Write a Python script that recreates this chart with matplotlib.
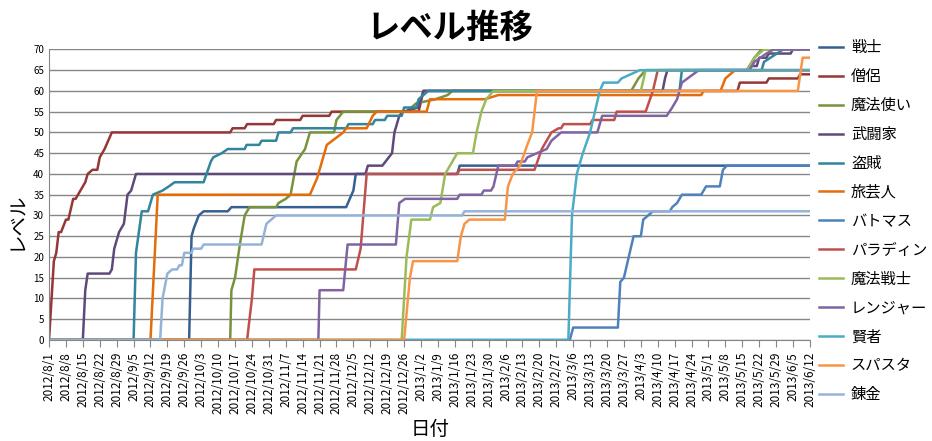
import matplotlib
matplotlib.use("Agg")
import matplotlib.pyplot as plt
import pandas as pd

plt.rcParams["font.family"] = ["Noto Sans CJK JP", "DejaVu Sans"]

start = pd.Timestamp("2012-08-01")
end = pd.Timestamp("2013-06-12")

names = ["戦士", "僧侶", "魔法使い", "武闘家", "盗賊", "旅芸人", "バトマス",
         "パラディン", "魔法戦士", "レンジャー", "賢者", "スパスタ", "錬金"]
colors = ["#376092", "#953735", "#77933C", "#5F497A", "#31859C", "#E46C0A", "#4F81BD",
          "#C0504D", "#9BBB59", "#8064A2", "#4BACC6", "#F79646", "#95B3D7"]

# day offsets from 2012/8/1 and levels
senshi_d = [0, 58, 59, 60, 62, 64, 74, 75.5, 123, 126, 127, 169, 170, 315]
senshi_v = [0, 0, 25, 27, 30, 31, 31, 32, 32, 36, 40, 40, 42, 42]
souryo_d = [0, 2, 3, 4, 5, 7, 8, 10, 11, 15, 16, 18, 20, 21, 23, 26, 75, 76, 81, 82, 93, 94, 104, 105, 116, 117, 153, 155, 285, 286, 297, 298, 310, 311, 315]
souryo_v = [0, 19, 21, 26, 26, 29, 29, 34, 34, 38, 40, 41, 41, 44, 46, 50, 50, 51, 51, 52, 52, 53, 53, 54, 54, 55, 55, 60, 60, 62, 62, 63, 63, 64, 64]
mahou_d = [0, 75, 75.5, 77, 79, 81, 83, 94, 95, 98, 100, 102.5, 106, 108, 118, 119, 121.8, 148, 152, 160, 165, 167, 241, 244, 247, 289, 292, 295, 315]
mahou_v = [0, 0, 12, 15, 23, 30, 32, 32, 33, 34, 35, 43, 46, 50, 50, 53, 55, 55, 57, 58, 59, 60, 60, 63, 65, 65, 68, 70, 70]
butou_d = [0, 14, 15, 16, 25, 26, 27, 29, 31, 32.5, 34, 36, 131, 132, 138, 142, 143, 145, 146.6, 153, 155, 254, 255, 256, 289, 290, 293, 294, 297, 298, 307, 308, 315]
butou_v = [0, 0, 12, 16, 16, 17, 22, 26, 28, 35, 36, 40, 40, 42, 42, 45, 50, 54, 55, 56, 60, 60, 63, 65, 65, 66, 66, 68, 68, 69, 69, 70, 70]
touzoku_d = [0, 35, 36, 38.4, 41, 43, 47, 49.6, 52, 64, 67, 68, 71.5, 74, 81, 81.8, 87, 88, 94, 95, 100, 101, 123, 124, 134, 135, 139, 140, 146, 147, 152, 153, 157, 261, 262, 295, 296, 304, 315]
touzoku_v = [0, 0, 21, 31, 31, 35, 36, 37, 38, 38, 43, 44, 45, 46, 46, 47, 47, 48, 48, 50, 50, 51, 51, 52, 52, 53, 53, 54, 54, 56, 56, 58, 60, 60, 65, 65, 67, 70, 70]
tabi_d = [0, 42, 45, 108, 111, 113, 115, 121.8, 123, 131.5, 134, 135.6, 156.3, 157.7, 180.5, 186, 270, 271, 278, 280, 284, 315]
tabi_v = [0, 0, 35, 35, 39, 43, 47, 50, 51, 51, 54, 55, 55, 58, 58, 59, 59, 60, 60, 63, 65, 65]
batomasu_d = [0, 215.6, 217, 235.5, 236.5, 238, 240, 242, 245, 246, 250, 257, 258, 260, 262, 270, 272, 277.7, 279, 280.6, 315]
batomasu_v = [0, 0, 3, 3, 14, 15, 20, 25, 25, 29, 31, 31, 32, 33, 35, 35, 37, 37, 41, 42, 42]
paladin_d = [0, 82, 84, 85, 127, 129, 131.5, 169, 170, 201, 204, 206, 208, 211, 212, 213, 224, 225, 234, 235, 247, 250, 252, 315]
paladin_v = [0, 0, 10, 17, 17, 22, 40, 40, 41, 41, 46, 48, 50, 51, 51, 52, 52, 53, 53, 55, 55, 60, 65, 65]
mahousen_d = [0, 146, 148, 150, 157.7, 159, 162, 164, 165, 169, 175.5, 177, 179, 181, 184, 245, 247, 289, 292, 296, 315]
mahousen_v = [0, 0, 20, 29, 29, 32, 33, 40, 41, 45, 45, 50, 55, 58, 60, 60, 65, 65, 68, 70, 70]
ranger_d = [0, 111.5, 112, 121.8, 123.6, 143.6, 145, 147.4, 169, 170, 179, 180, 183, 184, 186, 193, 194, 197, 198, 206, 208, 212, 227, 228, 229, 255.7, 258, 260, 262, 269, 290, 292, 297, 300, 315]
ranger_v = [0, 0, 12, 12, 23, 23, 33, 34, 34, 35, 35, 36, 36, 37, 42, 42, 43, 43, 44, 46, 48, 50, 50, 52, 54, 54, 56, 58, 62, 65, 65, 67, 69, 70, 70]
kenja_d = [0, 215, 216.5, 218.5, 221, 224, 226, 228, 229.5, 235.5, 237, 244.6, 315]
kenja_v = [0, 0, 30, 40, 45, 50, 55, 60, 62, 62, 63, 65, 65]
supa_d = [0, 147, 149.4, 150.7, 169, 170.5, 172, 174, 188.7, 189.5, 190, 192, 195, 198, 200, 201, 202, 310, 312, 315]
supa_v = [0, 0, 15, 19, 19, 25, 28, 29, 29, 34, 37, 40, 42, 47, 50, 55, 60, 60, 68, 68]
renkin_d = [0, 46, 47, 49, 51, 53, 54, 55, 56, 59, 59.6, 63, 64, 88, 90, 94, 171, 172, 315]
renkin_v = [0, 0, 10, 16, 17, 17, 18, 18, 21, 21, 22, 22, 23, 23, 28, 30, 30, 31, 31]

series = [(senshi_d, senshi_v), (souryo_d, souryo_v), (mahou_d, mahou_v), (butou_d, butou_v),
          (touzoku_d, touzoku_v), (tabi_d, tabi_v), (batomasu_d, batomasu_v), (paladin_d, paladin_v),
          (mahousen_d, mahousen_v), (ranger_d, ranger_v), (kenja_d, kenja_v), (supa_d, supa_v),
          (renkin_d, renkin_v)]

fig = plt.figure(figsize=(9.32, 4.41), dpi=100)
ax = fig.add_axes([0.0526, 0.229, 0.8164, 0.659])

for name, col, (d, v) in zip(names, colors, series):
    x = [start + pd.Timedelta(days=float(k)) for k in d]
    ax.plot(x, v, color=col, lw=1.8, label=name)

ax.set_xlim(start, end)
ax.set_ylim(0, 70)
ax.set_yticks(range(0, 71, 5))
ax.tick_params(axis="y", labelsize=7, length=0)
ticks = pd.date_range(start, end, freq="7D")
ax.set_xticks(ticks)
ax.set_xticklabels([f"{t.year}/{t.month}/{t.day}" for t in ticks], rotation=90, fontsize=8.5)
ax.tick_params(axis="x", length=5, direction="out", color="#868686")
ax.grid(axis="y", color="#868686", lw=1)
for s in ["top", "right"]:
    ax.spines[s].set_visible(False)
ax.spines["left"].set_color("#868686")
ax.spines["bottom"].set_color("#868686")
ax.set_axisbelow(True)

fig.text(0.483, 0.935, "レベル推移", ha="center", va="center", fontsize=24, fontweight="bold")
fig.text(0.018, 0.5, "レベル", rotation=90, ha="center", va="center", fontsize=14)
fig.text(0.462, 0.025, "日付", ha="center", va="center", fontsize=14)

fig.legend(loc="upper left", bbox_to_anchor=(0.872, 0.925), frameon=False, fontsize=11,
           labelspacing=0.78, handlelength=1.6, handletextpad=0.5, borderaxespad=0)

fig.savefig("out.png", dpi=100)
